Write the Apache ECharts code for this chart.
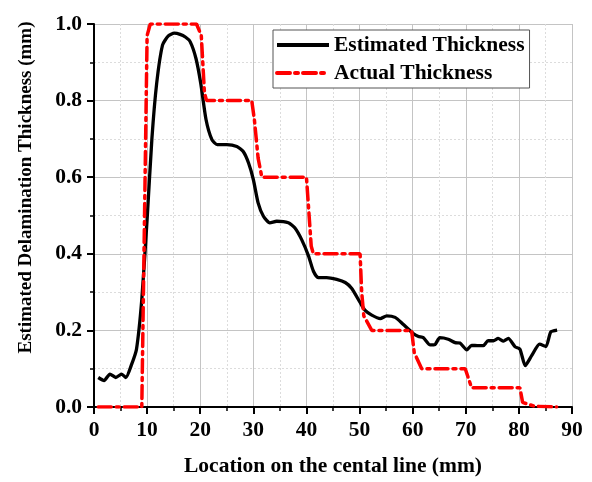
<!DOCTYPE html>
<html>
<head>
<meta charset="utf-8">
<script src="https://cdn.jsdelivr.net/npm/echarts@6/dist/echarts.min.js"></script>
<style>
  html, body { margin: 0; padding: 0; background: #fff; }
  #chart { width: 592px; height: 482px; }
</style>
</head>
<body>
<div id="chart"></div>
<script>
// Delamination thickness along the central line: [location (mm), thickness (mm)]
const estimatedThickness = [
  [0.8, 0.077], [1.9, 0.069], [3.0, 0.086], [4.1, 0.077], [5.2, 0.086], [6.0, 0.077],
  [7.1, 0.112], [8.0, 0.151], [9.0, 0.281], [10.0, 0.49], [10.9, 0.70], [11.8, 0.845],
  [12.9, 0.945], [14.0, 0.969], [15.1, 0.976], [16.2, 0.973], [17.2, 0.966], [18.1, 0.954],
  [19.2, 0.91], [20.1, 0.845], [21.1, 0.75], [22.2, 0.698], [23.2, 0.685], [25.0, 0.685],
  [26.9, 0.68], [28.1, 0.667], [29.1, 0.637], [30.0, 0.594], [30.9, 0.533], [31.9, 0.498],
  [33.1, 0.481], [34.4, 0.485], [36.6, 0.481], [37.8, 0.468], [39.1, 0.437], [40.4, 0.394],
  [41.3, 0.355], [42.2, 0.338], [43.8, 0.338], [45.7, 0.333], [47.3, 0.325], [48.5, 0.31],
  [50.1, 0.273], [51.0, 0.253], [52.3, 0.24], [53.9, 0.231], [55.1, 0.238], [56.7, 0.234],
  [58.2, 0.216], [60.1, 0.192], [61.1, 0.184], [62.0, 0.181], [63.3, 0.162], [64.2, 0.163],
  [65.1, 0.181], [66.7, 0.177], [68.0, 0.168], [68.9, 0.167], [70.2, 0.149], [71.1, 0.161],
  [72.4, 0.16], [73.3, 0.16], [74.2, 0.173], [75.2, 0.173], [76.1, 0.179], [77.1, 0.172],
  [78.0, 0.179], [79.3, 0.157], [80.2, 0.151], [81.2, 0.108], [82.4, 0.134], [83.9, 0.164],
  [85.1, 0.158], [86.0, 0.196], [87.2, 0.201]
];

const actualThickness = [
  [0.8, 0], [9.0, 0], [10.0, 0.97], [10.6, 1.0], [19.3, 1.0], [20.2, 0.97], [20.8, 0.82],
  [21.2, 0.8], [29.7, 0.8], [30.2, 0.75], [30.9, 0.65], [31.6, 0.6], [40.0, 0.6],
  [40.5, 0.5], [40.9, 0.42], [41.3, 0.4], [50.1, 0.4], [50.4, 0.3], [50.8, 0.238],
  [52.3, 0.2], [59.8, 0.2], [60.3, 0.142], [61.7, 0.1], [69.9, 0.1], [71.1, 0.05],
  [80.2, 0.05], [80.7, 0.012], [82.9, 0.002], [87.1, 0]
];

const xTicks = { min: 0, max: 90, interval: 10 };
const yTicks = { min: 0, max: 1.0, interval: 0.2 };

const serif = '"Liberation Serif", "Times New Roman", serif';
const labelSize = 21.5;

const chart = echarts.init(document.getElementById('chart'), null, { renderer: 'canvas' });

const axisCommon = {
  axisLine: { show: true, onZero: false, lineStyle: { color: '#000', width: 2 } },
  axisTick: { show: true, inside: false, length: 7, lineStyle: { color: '#000', width: 2 } },
  minorTick: { show: true, splitNumber: 2, length: 4, lineStyle: { color: '#000', width: 1.5 } },
  splitLine: { show: true, lineStyle: { color: '#c4c4c4', width: 1 } },
  minorSplitLine: { show: true, lineStyle: { color: '#dcdcdc', width: 1, type: [2, 2] } },
  axisLabel: { fontFamily: serif, fontWeight: 'bold', fontSize: labelSize, color: '#000' }
};

chart.setOption({
  animation: false,
  backgroundColor: '#fff',
  grid: { left: 94, right: 20, top: 24, bottom: 74, containLabel: false },
  legend: {
    left: 273,
    top: 30,
    orient: 'vertical',
    backgroundColor: '#fff',
    borderColor: '#555',
    borderWidth: 1,
    borderRadius: 0,
    padding: [4, 5, 4, 2],
    itemWidth: 52,
    itemHeight: 14,
    itemGap: 6,
    itemStyle: { opacity: 0 },
    lineStyle: { width: 4 },
    textStyle: { fontFamily: serif, fontWeight: 'bold', fontSize: labelSize, color: '#000' },
    data: ['Estimated Thickness', 'Actual Thickness']
  },
  xAxis: Object.assign({}, axisCommon, {
    type: 'value',
    min: xTicks.min,
    max: xTicks.max,
    interval: xTicks.interval,
    name: 'Location on the cental line (mm)',
    nameLocation: 'middle',
    nameGap: 48,
    nameTextStyle: { fontFamily: serif, fontWeight: 'bold', fontSize: labelSize, color: '#000' },
    axisLabel: Object.assign({}, axisCommon.axisLabel, { margin: 12 })
  }),
  yAxis: Object.assign({}, axisCommon, {
    type: 'value',
    min: yTicks.min,
    max: yTicks.max,
    interval: yTicks.interval,
    name: 'Estimated Delamination Thickness (mm)',
    nameLocation: 'middle',
    nameGap: 58,
    nameTextStyle: {
      fontFamily: serif, fontWeight: 'bold', fontSize: 19, color: '#000',
      padding: [0, 0, 0, 56]
    },
    axisLabel: Object.assign({}, axisCommon.axisLabel, {
      margin: 12,
      formatter: v => v.toFixed(1)
    })
  }),
  series: [
    {
      name: 'Estimated Thickness',
      type: 'line',
      data: estimatedThickness,
      symbol: 'none',
      smooth: 0.2,
      lineStyle: { color: '#000', width: 3.3 },
      itemStyle: { color: '#000' },
      z: 2
    },
    {
      name: 'Actual Thickness',
      type: 'line',
      data: actualThickness,
      symbol: 'none',
      lineStyle: { color: '#ff0000', width: 3.5, type: [13, 5, 3, 5], cap: 'round' },
      itemStyle: { color: '#ff0000' },
      z: 3
    }
  ]
});
</script>
</body>
</html>
